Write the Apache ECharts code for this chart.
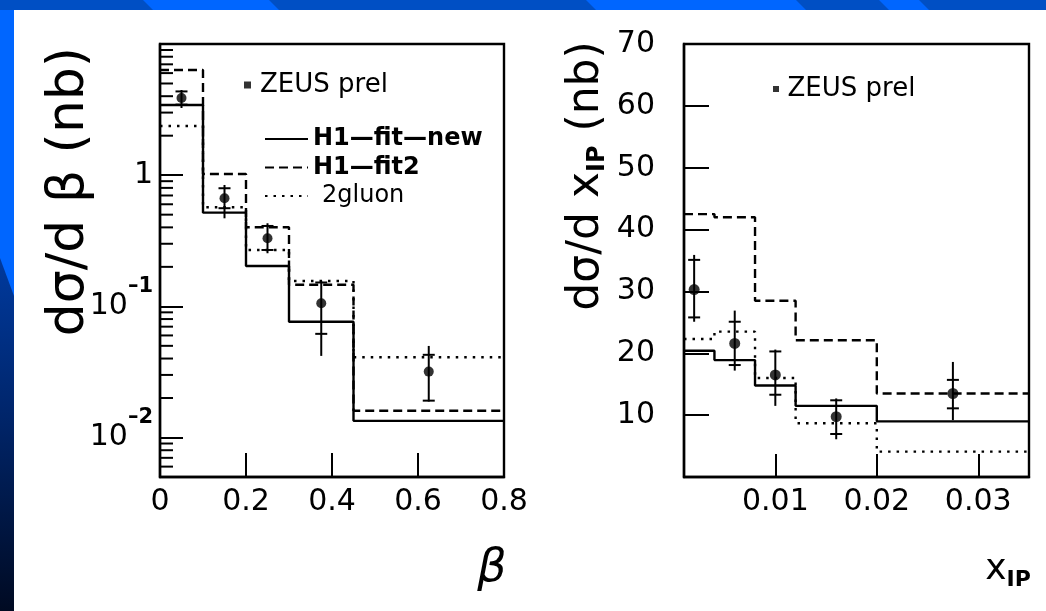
<!DOCTYPE html>
<html>
<head>
<meta charset="utf-8">
<script src="https://cdn.jsdelivr.net/npm/echarts@6/dist/echarts.min.js"></script>
<style>
  html, body { margin: 0; padding: 0; background: #fff; }
  #chart { width: 1046px; height: 611px; }
</style>
</head>
<body>
<div id="chart"></div>
<script>
// ---- dσ/dβ (nb), log scale ----
const betaEdges = [0, 0.1, 0.2, 0.3, 0.45, 0.8];
const betaH1FitNew = [3.43, 0.518, 0.203, 0.0764, 0.0134];
const betaH1Fit2 = [6.34, 1.02, 0.401, 0.146, 0.0160];
const beta2Gluon = [2.37, 0.57, 0.269, 0.156, 0.0409];
const betaZeusX = [0.05, 0.15, 0.25, 0.375, 0.625];
const betaZeusY = [3.88, 0.667, 0.330, 0.1056, 0.0318];
const betaZeusStatLo = [3.45, 0.56, 0.269, 0.0617, 0.0191];
const betaZeusStatHi = [4.35, 0.795, 0.410, 0.152, 0.0427];
const betaZeusTotLo = [3.25, 0.469, 0.254, 0.0419, 0.0188];
const betaZeusTotHi = [4.46, 0.842, 0.430, 0.157, 0.0499];
const betaMinorTicks = [0.006, 0.007, 0.008, 0.009,
  0.02, 0.03, 0.04, 0.05, 0.06, 0.07, 0.08, 0.09,
  0.2, 0.3, 0.4, 0.5, 0.6, 0.7, 0.8, 0.9,
  2, 3, 4, 5, 6, 7, 8, 9];

// ---- dσ/dx_IP (nb), linear scale ----
const xpomEdges = [0.001, 0.004, 0.008, 0.012, 0.02, 0.035];
const xpomH1FitNew = [20.4, 18.9, 14.8, 11.5, 9.0];
const xpomH1Fit2 = [42.5, 42.0, 28.5, 22.1, 13.5];
const xpom2Gluon = [22.3, 23.5, 16.0, 8.7, 4.1];
const xpomZeusX = [0.002, 0.006, 0.010, 0.016, 0.0275];
const xpomZeusY = [30.3, 21.6, 16.5, 9.75, 13.5];
const xpomZeusStatLo = [25.8, 18.1, 13.3, 6.95, 11.1];
const xpomZeusStatHi = [35.1, 25.1, 20.3, 12.4, 15.7];
const xpomZeusTotLo = [25.1, 17.2, 11.5, 6.1, 9.2];
const xpomZeusTotHi = [35.9, 26.9, 20.6, 12.7, 18.6];

const FONT = 'DejaVu Sans';
const BLACK = '#000';
const LW = 2.4;
const DASHED = [9, 5];
const DOTTED = [2.5, 6];

// histogram outline: each bin contributes its left and right edge at the bin value
function steps(edges, vals) {
  const pts = [];
  vals.forEach((v, i) => { pts.push([edges[i], v]); pts.push([edges[i + 1], v]); });
  return pts;
}
function zip(xs, ys) { return xs.map((x, i) => [x, ys[i]]); }
function errRows(xs, ys, sLo, sHi, tLo, tHi) {
  return xs.map((x, i) => [x, ys[i], sLo[i], sHi[i], tLo[i], tHi[i]]);
}

function renderErrorBar(params, api) {
  const x = api.value(0);
  const tHi = api.coord([x, api.value(5)]);
  const tLo = api.coord([x, api.value(4)]);
  const sLo = api.coord([x, api.value(2)]);
  const sHi = api.coord([x, api.value(3)]);
  const w = 6;
  const st = { stroke: BLACK, lineWidth: 2 };
  return {
    type: 'group',
    children: [
      { type: 'line', shape: { x1: tHi[0], y1: tHi[1], x2: tLo[0], y2: tLo[1] }, style: st },
      { type: 'line', shape: { x1: sLo[0] - w, y1: sLo[1], x2: sLo[0] + w, y2: sLo[1] }, style: st },
      { type: 'line', shape: { x1: sHi[0] - w, y1: sHi[1], x2: sHi[0] + w, y2: sHi[1] }, style: st }
    ]
  };
}

// short inward ticks at 2..9 × 10^k on the log axis
function renderMinorTick(params, api) {
  const p = api.coord([api.value(0), api.value(1)]);
  return {
    type: 'line',
    shape: { x1: p[0], y1: p[1], x2: p[0] + 13, y2: p[1] },
    style: { stroke: BLACK, lineWidth: 2 }
  };
}

function logLabel(v) {
  const e = Math.log10(v);
  const r = Math.round(e);
  if (Math.abs(e - r) > 1e-6 || r > 0) return '';
  if (r === 0) return '{b|1}';
  return '{b|10}{s|\u2013' + (-r) + '}';
}

function histSeries(name, xi, data, type) {
  return {
    name: name, type: 'line', xAxisIndex: xi, yAxisIndex: xi,
    data: data, symbol: 'none', showSymbol: false, z: 3,
    lineStyle: { color: BLACK, width: LW, type: type },
    itemStyle: { color: BLACK },
    emphasis: { disabled: true }, silent: true
  };
}

const axisLineStyle = { show: true, lineStyle: { color: BLACK, width: LW } };
const labelBase = { color: BLACK, fontFamily: FONT, fontSize: 30 };

const chart = echarts.init(document.getElementById('chart'), null, { renderer: 'canvas' });
chart.setOption({
  animation: false,
  backgroundColor: '#fff',
  graphic: [
    { type: 'rect', z: -100, silent: true, shape: { x: 0, y: 0, width: 1046, height: 611 }, style: { fill: '#0066ff' } },
    { type: 'polygon', z: -99, silent: true, shape: { points: [[0, 258], [14, 296], [14, 611], [0, 611]] },
      style: { fill: new echarts.graphic.LinearGradient(0, 0, 0, 1, [
        { offset: 0, color: '#003a9e' }, { offset: 0.45, color: '#00256a' }, { offset: 1, color: '#000a22' }]) } },
    { type: 'polygon', z: -99, silent: true, shape: { points: [[0, 0], [143, 0], [153, 10], [0, 10]] }, style: { fill: '#004fc4' } },
    { type: 'polygon', z: -99, silent: true, shape: { points: [[269, 0], [586, 0], [596, 10], [279, 10]] }, style: { fill: '#004fc4' } },
    { type: 'polygon', z: -99, silent: true, shape: { points: [[796, 0], [879, 0], [889, 10], [806, 10]] }, style: { fill: '#004fc4' } },
    { type: 'polygon', z: -99, silent: true, shape: { points: [[919, 0], [1046, 0], [1046, 10], [929, 10]] }, style: { fill: '#004fc4' } },
    { type: 'rect', z: -98, silent: true, shape: { x: 14, y: 10, width: 1032, height: 601 }, style: { fill: '#fff' } }
  ],
  grid: [
    { left: 160, top: 44, width: 344, height: 433, show: true, borderColor: BLACK, borderWidth: LW, backgroundColor: 'transparent' },
    { left: 684, top: 44, width: 345, height: 433, show: true, borderColor: BLACK, borderWidth: LW, backgroundColor: 'transparent' }
  ],
  legend: [
    {
      data: [{ name: 'ZEUS prel', icon: 'path://M0,0H1V1H0Z' }],
      left: 244, top: 70, padding: 0, itemWidth: 15, itemHeight: 7, selectedMode: false,
      textStyle: { color: BLACK, fontFamily: FONT, fontSize: 26, lineHeight: 30 }
    },
    {
      orient: 'vertical', left: 264, top: 126, padding: 0, itemWidth: 43, itemHeight: 14, itemGap: 2.5, selectedMode: false,
      itemStyle: { opacity: 0, borderWidth: 0 },
      textStyle: { color: BLACK, fontFamily: FONT, fontSize: 24, lineHeight: 26 },
      data: [
        { name: 'H1\u2014fit\u2014new', textStyle: { fontWeight: 'bold' } },
        { name: 'H1\u2014fit2', textStyle: { fontWeight: 'bold' } },
        { name: '2gluon', textStyle: { padding: [0, 0, 0, 9] } }
      ]
    },
    {
      data: [{ name: 'ZEUS prel', icon: 'path://M0,0H1V1H0Z' }],
      left: 773, top: 74, padding: 0, itemWidth: 13, itemHeight: 6, selectedMode: false,
      textStyle: { color: BLACK, fontFamily: FONT, fontSize: 26, lineHeight: 30 }
    }
  ],
  xAxis: [
    {
      gridIndex: 0, type: 'value', min: 0, max: 0.8, interval: 0.2,
      axisLine: axisLineStyle,
      axisTick: { show: true, inside: true, length: 24, lineStyle: { color: BLACK, width: 2 } },
      axisLabel: Object.assign({ margin: 10 }, labelBase),
      splitLine: { show: false },
      name: '\u03b2', nameLocation: 'end', nameGap: -12,
      nameTextStyle: { color: BLACK, fontFamily: FONT, fontSize: 46, fontStyle: 'italic',
        align: 'center', verticalAlign: 'top', padding: [69, 0, 0, 0] }
    },
    {
      gridIndex: 1, type: 'value', min: 0.001, max: 0.035, splitNumber: 4,
      axisLine: axisLineStyle,
      axisTick: { show: true, inside: true, length: 23, lineStyle: { color: BLACK, width: 2 } },
      axisLabel: Object.assign({
        margin: 10, showMinLabel: false, showMaxLabel: false,
        formatter: v => (Math.abs(v * 100 - Math.round(v * 100)) < 1e-6 ? String(+v.toFixed(2)) : '')
      }, labelBase),
      splitLine: { show: false },
      name: '{a|x}{s|IP}', nameLocation: 'end', nameGap: -21,
      nameTextStyle: { color: BLACK, fontFamily: FONT, align: 'center', verticalAlign: 'top', padding: [72, 0, 0, 0],
        rich: { a: { fontSize: 36, fontFamily: FONT, color: BLACK },
                s: { fontSize: 22, fontWeight: 'bold', fontFamily: FONT, color: BLACK, padding: [20, 0, 0, 0] } } }
    }
  ],
  yAxis: [
    {
      gridIndex: 0, type: 'log', logBase: 10, min: 0.005, max: 10,
      axisLine: axisLineStyle,
      axisTick: { show: true, inside: true, length: 23, lineStyle: { color: BLACK, width: 2 } },
      axisLabel: {
        margin: 7, formatter: logLabel, color: BLACK,
        rich: { b: { fontSize: 30, fontFamily: FONT, color: BLACK },
                s: { fontSize: 21, fontFamily: FONT, fontWeight: 'bold', color: BLACK, padding: [0, 0, 40, 0] } }
      },
      splitLine: { show: false },
      name: 'd\u03c3/d \u03b2 (nb)', nameLocation: 'middle', nameGap: 91, nameMoveOverlap: false,
      nameTextStyle: { color: BLACK, fontFamily: FONT, fontSize: 52, align: 'center', verticalAlign: 'middle',
        padding: [0, 0, 0, 138] }
    },
    {
      gridIndex: 1, type: 'value', min: 0, max: 70, interval: 10,
      axisLine: axisLineStyle,
      axisTick: { show: true, inside: true, length: 25, lineStyle: { color: BLACK, width: 2 } },
      axisLabel: Object.assign({ margin: 29, showMinLabel: false }, labelBase),
      splitLine: { show: false },
      name: '{a|d\u03c3/d x}{s|IP}{a| (nb)}', nameLocation: 'middle', nameGap: 97,
      nameTextStyle: { color: BLACK, fontFamily: FONT, align: 'center', verticalAlign: 'middle',
        padding: [0, 0, 0, 169],
        rich: { a: { fontSize: 44, fontFamily: FONT, color: BLACK },
                s: { fontSize: 24, fontWeight: 'bold', fontFamily: FONT, color: BLACK, padding: [22, 0, 0, 0] } } }
    }
  ],
  series: [
    {
      type: 'custom', xAxisIndex: 0, yAxisIndex: 0, silent: true, z: 2,
      data: betaMinorTicks.map(v => [0, v]), renderItem: renderMinorTick, encode: { x: 0, y: 1 }
    },
    histSeries('H1\u2014fit\u2014new', 0, steps(betaEdges, betaH1FitNew), 'solid'),
    histSeries('H1\u2014fit2', 0, steps(betaEdges, betaH1Fit2), DASHED),
    histSeries('2gluon', 0, steps(betaEdges, beta2Gluon), DOTTED),
    {
      type: 'custom', xAxisIndex: 0, yAxisIndex: 0, silent: true, z: 4,
      data: errRows(betaZeusX, betaZeusY, betaZeusStatLo, betaZeusStatHi, betaZeusTotLo, betaZeusTotHi),
      renderItem: renderErrorBar, encode: { x: 0, y: 1 }
    },
    {
      name: 'ZEUS prel', type: 'scatter', xAxisIndex: 0, yAxisIndex: 0, z: 5, silent: true,
      data: zip(betaZeusX, betaZeusY), symbol: 'circle', symbolSize: 10, itemStyle: { color: BLACK }
    },
    histSeries('H1\u2014fit\u2014new', 1, steps(xpomEdges, xpomH1FitNew), 'solid'),
    histSeries('H1\u2014fit2', 1, steps(xpomEdges, xpomH1Fit2), DASHED),
    histSeries('2gluon', 1, steps(xpomEdges, xpom2Gluon), DOTTED),
    {
      type: 'custom', xAxisIndex: 1, yAxisIndex: 1, silent: true, z: 4,
      data: errRows(xpomZeusX, xpomZeusY, xpomZeusStatLo, xpomZeusStatHi, xpomZeusTotLo, xpomZeusTotHi),
      renderItem: renderErrorBar, encode: { x: 0, y: 1 }
    },
    {
      name: 'ZEUS prel', type: 'scatter', xAxisIndex: 1, yAxisIndex: 1, z: 5, silent: true,
      data: zip(xpomZeusX, xpomZeusY), symbol: 'circle', symbolSize: 11, itemStyle: { color: BLACK }
    }
  ]
});
</script>
</body>
</html>
